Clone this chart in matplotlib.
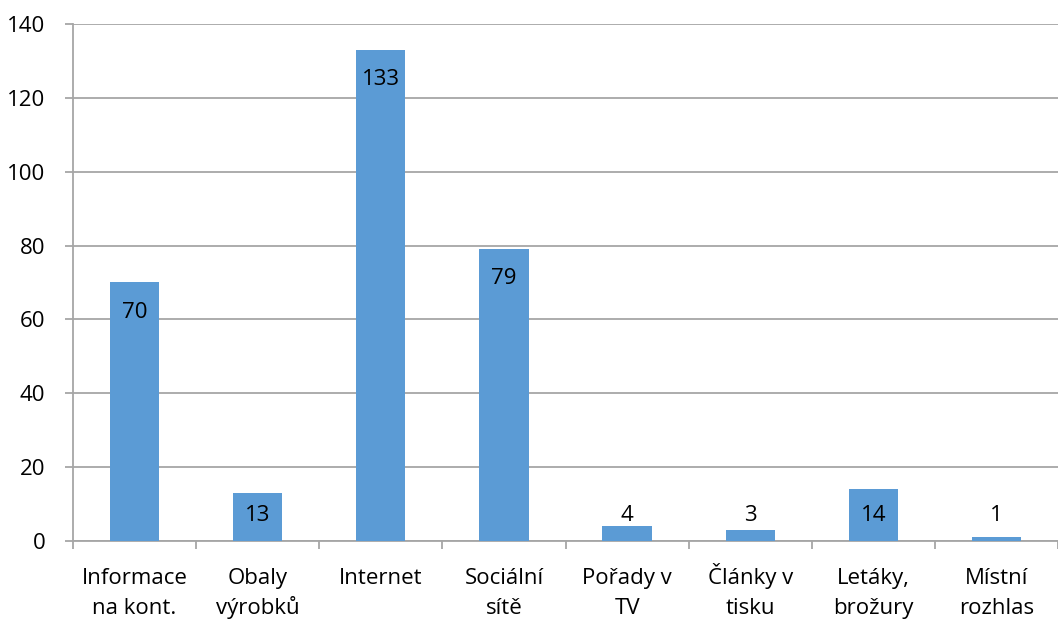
import matplotlib.pyplot as plt
import numpy as np

categories = ['Informace\nna kont.', 'Obaly\nvýrobků', 'Internet', 'Sociální\nsítě',
              'Pořady v\nTV', 'Články v\ntisku', 'Letáky,\nbrožury', 'Místní\nrozhlas']
counts = [70, 13, 133, 79, 4, 3, 14, 1]

bar_color = '#5B9BD5'
grid_color = '#A6A6A6'

plt.rcParams['font.family'] = ['Open Sans', 'DejaVu Sans']

fig = plt.figure(figsize=(10.58, 6.21), dpi=100)
ax = fig.add_axes([0.069, 0.1288, 0.931, 0.8326])

x = np.arange(len(categories))
ax.bar(x, counts, width=0.4, color=bar_color, zorder=3)

# value labels just below the bar top, kept above the baseline for short bars
for xi, v in zip(x, counts):
    ax.text(xi, max(v - 8, 7), str(v), ha='center', va='center', fontsize=16, color='black', zorder=4)

ax.set_xlim(-0.5, len(categories) - 0.5)
ax.set_ylim(0, 140)
ax.set_yticks(np.arange(0, 141, 20))
ax.yaxis.grid(True, color=grid_color, linewidth=1.3, zorder=0)

# category separators as tick marks
ax.set_xticks(np.arange(-0.5, len(categories) + 0.5, 1))
ax.set_xticklabels([])
ax.tick_params(axis='x', length=6, color=grid_color, width=1.3, direction='out')
ax.tick_params(axis='y', length=6, color=grid_color, width=1.3, labelsize=16, pad=14)

# category names, one text per line so every line sits on the same baseline
line_y = [-0.0832, -0.1412]
for xi, name in zip(x, categories):
    for ly, line in zip(line_y, name.split('\n')):
        ax.text(xi, ly, line, ha='center', va='baseline', fontsize=16,
                transform=ax.get_xaxis_transform(), clip_on=False)

for side in ['top', 'right']:
    ax.spines[side].set_visible(False)
for side in ['left', 'bottom']:
    ax.spines[side].set_color(grid_color)
    ax.spines[side].set_linewidth(1.3)

fig.savefig('out.png', dpi=100)
